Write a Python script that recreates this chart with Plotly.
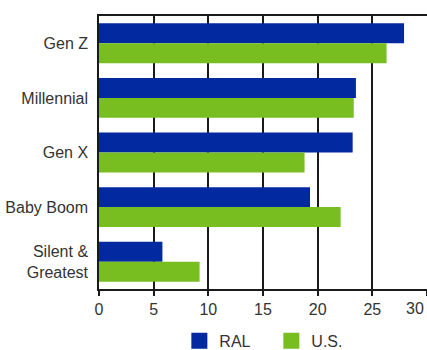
import plotly.graph_objects as go

categories = ["Gen Z", "Millennial", "Gen X", "Baby Boom", "Silent &<br>Greatest"]
ral_values = [27.9, 23.5, 23.2, 19.3, 5.8]
us_values = [26.3, 23.3, 18.8, 22.1, 9.2]
series_names = ["RAL", "U.S."]
tick_vals = [0, 5, 10, 15, 20, 25, 30]
tick_labels = ["0", "5", "10", "15", "20", "25", "30"]

blue = "#0229A0"
green = "#78BE21"
text_color = "#333333"

fig = go.Figure()
fig.add_trace(go.Bar(y=categories, x=ral_values, orientation="h", name=series_names[0],
                     marker=dict(color=blue, line=dict(width=0)), showlegend=False))
fig.add_trace(go.Bar(y=categories, x=us_values, orientation="h", name=series_names[1],
                     marker=dict(color=green, line=dict(width=0)), showlegend=False))
# legend swatches
for name, col in zip(series_names, [blue, green]):
    fig.add_trace(go.Scatter(x=[None], y=[None], mode="markers", name=name,
                             marker=dict(symbol="square", size=16, color=col)))

fig.update_layout(
    width=427, height=350,
    margin=dict(l=99, r=0, t=16, b=61, autoexpand=False),
    paper_bgcolor="white", plot_bgcolor="white",
    font=dict(family="Liberation Sans, Arial, sans-serif", size=16, color=text_color),
    barmode="group", bargap=0.27, bargroupgap=0,
    showlegend=True,
    legend=dict(orientation="h", x=0.245, xanchor="left", y=-0.128, yanchor="top",
                entrywidth=47, entrywidthmode="pixels", font=dict(size=16, color=text_color),
                bgcolor="rgba(0,0,0,0)"),
)
fig.update_xaxes(range=[0, 30], tickvals=tick_vals,
                 ticktext=tick_labels[:-1] + [""],
                 showgrid=True, gridcolor="#1a1a1a", gridwidth=1.5,
                 showline=True, linecolor="#1a1a1a", linewidth=1.5, mirror=True,
                 ticks="outside", ticklen=5, tickcolor="#1a1a1a", tickwidth=1.5,
                 zeroline=False, fixedrange=True)
fig.update_yaxes(autorange="reversed", showgrid=False, showline=True,
                 linecolor="#1a1a1a", linewidth=1.5, ticks="", ticklabelstandoff=6,
                 fixedrange=True)
fig.add_annotation(x=tick_vals[-1], y=0, xref="x", yref="paper", text=tick_labels[-1],
                   showarrow=False, xanchor="center", yanchor="top", xshift=-12, yshift=-9,
                   font=dict(size=16, color=text_color))

fig.write_html("out.html", config={"displayModeBar": False})
